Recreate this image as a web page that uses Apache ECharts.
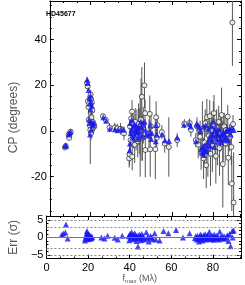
<!DOCTYPE html>
<html>
<head>
<meta charset="utf-8">
<script src="https://cdn.jsdelivr.net/npm/echarts@6/dist/echarts.min.js"></script>
<style>html,body{margin:0;padding:0;background:#fff}#c{width:245px;height:285px}</style>
</head>
<body>
<div id="c"></div>
<script>
// Observed closure phases (open circles) with error bars
const obsX = [7.4, 7.8, 9.2, 9.5, 9.8, 10.2,
  18.2, 18.5, 18.6, 18.9, 19.1, 19.3, 19.5, 19.8, 20.0, 20.2, 20.4, 20.6, 20.8, 21.0, 21.2, 21.5, 21.8, 20.1,
  26.0, 27.4, 29.2, 31.8, 33.0, 34.6, 36.3,
  38.8, 39.0, 39.2, 39.5, 39.8, 40.2, 40.3, 40.6, 40.9, 41.2, 41.5, 41.8, 42.2, 42.6, 43.0, 43.4, 43.8, 44.2, 44.6, 45.0, 45.3, 45.7, 46.3, 46.6, 46.7,
  48.5, 48.9, 49.1, 49.5, 51.6, 52.0, 52.3, 52.6,
  54.8, 56.2, 58.2, 62.3, 65.8, 68.4, 69.0,
  71.4, 72.0, 72.6, 73.5, 74.0, 74.6, 75.2, 75.6, 76.0, 76.5, 76.8, 77.3, 77.8, 78.2, 78.6, 79.0, 79.5, 80.0, 80.3, 80.8,
  81.2, 81.6, 82.0, 82.6, 83.0, 83.5, 84.0, 84.6, 84.8, 85.3, 85.8, 86.2, 86.6, 87.0, 87.3, 87.8, 88.2, 88.8, 89.0, 89.3, 89.9, 89.6];
const obsCP = [-7.2, -6.6, -1.6, -3.0, -1.0, -0.3,
  21.0, 19.5, 13.0, 10.5, 5.0, 12.0, 2.5, 0.5, 16.0, 14.0, 6.0, 12.5, 9.0, 4.0, 1.5, 3.0, 2.0, -1.0,
  6.5, 4.8, 1.5, 1.5, 1.2, 1.0, -1.0,
  -12.0, -10.2, 2.0, -4.0, 5.5, 8.5, -11.2, 3.0, -1.5, 0.5, -6.0, 4.0, -2.5, 1.5, -4.5, 3.0, 0.0, -2.0, 5.0, 15.0, -3.0, 2.5, 20.0, 7.8, -8.3,
  -1.0, 7.5, -8.0, 2.0, -8.0, 6.0, -3.0, 2.5,
  -0.5, -5.5, -7.0, -4.0, 3.2, 3.5, 0.5,
  -4.0, 2.0, -6.0, -2.5, -9.0, 1.0, -12.0, -5.0, 3.5, -15.0, 6.0, -8.0, -2.0, 6.5, -10.0, 0.5, -6.0, 3.0, 7.8, -3.5,
  -11.0, 1.5, -5.0, 4.0, -7.5, -1.0, 7.0, -14.5, -3.0, 2.0, -5.5, 0.5, -2.0, 6.3, -11.7, -3.0, -2.5, -7.0, -23.0, 47.5, -31.3, 3.0];
const obsErr = [0.8, 0.8, 0.8, 1.0, 0.8, 0.8,
  2.5, 2.0, 2.5, 3.0, 3.0, 2.0, 4.0, 15.0, 2.0, 2.5, 3.0, 2.0, 3.0, 2.5, 3.0, 2.0, 2.0, 3.0,
  1.0, 1.2, 2.0, 2.0, 2.0, 2.5, 3.0,
  4.0, 5.0, 4.0, 5.0, 4.0, 5.0, 6.0, 5.0, 6.0, 7.0, 8.0, 6.0, 6.0, 8.0, 7.0, 9.0, 10.0, 18.0, 18.0, 13.0, 10.0, 8.0, 10.0, 6.0, 12.0,
  6.0, 8.0, 12.0, 6.0, 13.0, 7.0, 4.0, 4.0,
  3.0, 4.0, 13.0, 3.0, 2.0, 2.0, 3.0,
  3.0, 4.0, 6.0, 7.0, 8.0, 12.0, 9.0, 10.0, 6.0, 10.0, 8.0, 12.0, 9.0, 7.0, 14.0, 8.0, 12.0, 10.0, 8.0, 9.0,
  12.0, 8.0, 10.0, 7.0, 12.0, 8.0, 12.0, 19.0, 10.0, 6.0, 8.0, 6.0, 5.0, 5.0, 12.0, 6.0, 4.0, 8.0, 12.0, 19.0, 22.0, 4.0];

// Model closure phases (blue triangles)
const modelX = [7.6, 8.0, 9.3, 9.7, 10.2, 18.3, 18.5, 19.0, 19.4, 19.6,
  19.9, 20.2, 19.2, 19.6, 20.0, 20.5, 20.9, 21.3, 19.7, 20.2,
  20.6, 21.6, 26.2, 27.6, 29.4, 31.9, 33.2, 34.8, 36.1, 39.0,
  39.2, 39.4, 39.6, 39.9, 40.1, 40.4, 40.7, 41.0, 41.3, 41.6,
  41.9, 42.2, 42.5, 42.8, 43.1, 43.4, 43.7, 44.1, 44.5, 44.9,
  45.3, 45.7, 46.4, 46.8, 47.2, 48.3, 48.8, 49.2, 49.6, 50.0,
  51.8, 52.1, 52.4, 54.9, 56.3, 58.3, 62.3, 65.6, 68.3, 68.8,
  71.5, 71.8, 72.4, 73.0, 73.6, 74.0, 74.3, 74.7, 75.0, 75.3,
  75.7, 76.0, 76.3, 76.6, 77.0, 77.3, 77.7, 78.0, 78.3, 78.7,
  79.0, 79.3, 79.7, 80.0, 80.4, 80.7, 81.0, 81.3, 81.7, 82.0,
  82.4, 82.8, 83.2, 83.6, 84.0, 84.4, 84.8, 85.2, 85.6, 86.0,
  86.4, 86.8, 87.2, 87.8, 88.4, 88.9, 90.0];
const modelCP = [-6.2, -6.5, -1.5, -1.0, -0.2, 22.5, 21.0, 18.0, 14.5, 12.0,
  15.5, 13.0, 5.0, 3.5, 9.5, 4.0, 3.0, 2.5, -1.5, 0.5,
  11.0, 3.5, 6.0, 4.5, 1.0, 0.8, 0.3, 1.0, 0.5, -8.5,
  -5.5, 3.5, -1.0, 0.5, 5.0, -3.0, 1.5, -1.0, 3.0, -2.0,
  0.5, 2.5, -0.5, 1.0, -3.5, 2.0, 0.0, -1.5, 4.0, 1.5,
  -2.5, 3.0, 4.0, 0.5, -1.5, -2.0, -0.5, 2.5, -3.5, -1.0,
  -4.5, 2.6, -1.6, -1.5, -4.0, -4.4, -2.8, 2.7, 3.2, 2.0,
  -4.5, 3.2, 2.6, 1.5, 0.0, -8.0, -9.5, -7.0, 1.9, -10.5,
  -8.5, -6.0, 2.5, -9.0, -7.5, -5.0, 1.0, -3.5, -6.5, -1.5,
  2.0, -4.5, -2.0, 4.0, -7.0, 0.0, -3.0, 1.5, -1.0, -4.5,
  -2.0, 0.5, -3.5, -1.5, -5.0, -2.5, -0.5, -4.0, -1.5, -3.0,
  0.0, 1.0, -4.0, 0.7, -1.5, 1.5, 0.4];

// Residuals (sigma)
const resX = [7.3, 8.1, 9.1, 9.4, 10.2, 18.5, 18.7, 19.0, 19.3, 19.5,
  19.7, 19.9, 20.1, 20.3, 20.5, 20.7, 20.9, 21.1, 21.4, 21.7,
  22.0, 26.4, 27.9, 29.4, 32.8, 34.3, 36.4, 39.5, 39.8, 40.1,
  40.4, 40.6, 40.9, 41.5, 41.8, 42.1, 42.4, 42.7, 43.0, 43.3,
  43.6, 44.0, 44.3, 44.6, 44.9, 45.2, 45.5, 45.8, 46.2, 46.5,
  47.0, 48.0, 48.4, 48.8, 49.2, 50.0, 50.6, 51.0, 52.0, 52.5,
  54.4, 56.3, 58.6, 62.3, 65.6, 68.8, 71.4, 71.8, 72.2, 72.6,
  73.0, 73.3, 73.6, 74.0, 74.3, 74.6, 75.0, 75.3, 75.6, 76.0,
  76.3, 76.6, 77.0, 77.3, 77.6, 78.0, 78.3, 78.6, 79.0, 79.3,
  79.7, 80.0, 80.4, 80.7, 81.0, 81.4, 81.7, 82.0, 82.4, 83.0,
  83.3, 83.7, 84.0, 84.5, 85.0, 85.4, 86.0, 86.5, 87.0, 87.5,
  88.0, 88.5, 89.3, 90.0, 89.5];
const resVal = [0.7, 1.1, 1.4, 3.7, -0.3, -0.9, -0.3, 0.3, 1.2, 1.8,
  0.6, -0.5, 1.0, 0.2, -0.2, 0.7, 0.0, -0.4, 0.4, -0.2,
  0.1, 0.0, -0.3, 0.5, -0.1, -0.6, 0.5, 0.3, -0.8, 1.0,
  0.5, -0.3, 1.5, 0.8, -0.5, 0.2, 1.2, -0.2, 0.6, -1.0,
  0.3, -2.6, 0.0, 0.8, -0.4, 0.4, -0.8, 1.0, -0.2, 0.3,
  -0.6, 1.5, -0.3, 0.2, -1.2, 0.4, 0.0, -0.5, 1.2, -0.6,
  -0.9, 1.8, 1.2, 2.1, 0.0, 1.2, -0.2, 0.3, -0.6, 0.5,
  -0.3, -1.2, 0.2, 0.8, -0.5, 0.4, -0.9, 0.1, 0.6, -0.3,
  0.9, -0.6, 0.3, -0.1, 0.7, -0.4, 1.6, 0.2, -0.5, 0.5,
  -0.2, 0.4, -0.7, 0.8, 0.0, -0.4, 0.5, -0.2, 0.3, -0.6,
  1.7, 0.1, -0.3, 0.4, -0.1, 0.3, -0.4, 0.2, 0.6, -1.0,
  1.0, -2.5, 1.8, 2.0, 0.0];

const xTicks = [0, 20, 40, 60, 80];
const cpTicks = [-20, 0, 20, 40];
const errTicks = [-5, 0, 5];
const refLines = [-5, -3, 3, 5];

const obsData = obsX.map((x, i) => [x, obsCP[i], obsErr[i]]);
const modelData = modelX.map((x, i) => [x, modelCP[i]]);
const resData = resX.map((x, i) => [x, resVal[i]]);

const FONT = 'Liberation Sans';
const axisCol = '#000';
const near = (v, list) => list.some(t => Math.abs(v - t) < 1e-6);

function xAx(grid, pos, labels) {
  return {
    type: 'value', gridIndex: grid, position: pos, min: 0, max: 93.5, interval: 20,
    axisLine: {show: true, onZero: false, lineStyle: {color: axisCol, width: 1}},
    axisTick: {show: true, inside: true, length: 4, lineStyle: {color: axisCol}},
    minorTick: {show: true, splitNumber: 3, length: 2, lineStyle: {color: axisCol}},
    splitLine: {show: false},
    axisLabel: {show: labels, margin: 4, fontFamily: FONT, fontSize: 11, color: '#000',
      formatter: v => near(v, xTicks) ? String(v) : ''},
    name: labels ? '{f|f}{s|max}{f| (Mλ)}' : '',
    nameLocation: 'middle', nameGap: 15,
    nameTextStyle: {rich: {f: {fontFamily: FONT, fontSize: 9, color: '#555'}, s: {fontFamily: FONT, fontSize: 6, color: '#555', verticalAlign: 'bottom', padding: [4, 0, 0, 0]}}, padding: [0, 8, 0, 0]}
  };
}
function yAx(grid, pos, min, max, ticks, labels, name, minorSplit, pad, fmt) {
  return {
    type: 'value', gridIndex: grid, position: pos, min: min, max: max, splitNumber: grid === 0 ? 5 : 2,
    axisLine: {show: true, onZero: false, lineStyle: {color: axisCol, width: 1}},
    axisTick: {show: true, inside: true, length: 4, lineStyle: {color: axisCol}},
    minorTick: {show: true, splitNumber: minorSplit, length: 2, lineStyle: {color: axisCol}},
    splitLine: {show: false},
    axisLabel: {show: labels, margin: 3, fontFamily: FONT, fontSize: 11, color: '#000',
      formatter: v => near(v, ticks) ? fmt(v) : ''},
    name: labels ? name : '', nameLocation: 'middle', nameGap: 19,
    nameTextStyle: {fontFamily: FONT, fontSize: 12, color: '#555', padding: pad}
  };
}

const chart = echarts.init(document.getElementById('c'), null, {renderer: 'canvas'});
chart.setOption({
  animation: false,
  backgroundColor: '#fff',
  title: {text: 'HD45677', left: 41, top: 6, textStyle: {fontFamily: FONT, fontSize: 7, fontWeight: 'bold', color: '#000'}},
  grid: [
    {left: 33, right: 4, top: 1, height: 215},
    {left: 33, right: 4, top: 216, height: 44}
  ],
  xAxis: [xAx(0, 'bottom', false), xAx(0, 'top', false), xAx(1, 'bottom', true), xAx(1, 'top', false)],
  yAxis: [
    yAx(0, 'left', -37.2, 56.9, cpTicks, true, 'CP (degrees)', 4, [0, 18, 0, 0], v => String(v)),
    yAx(0, 'right', -37.2, 56.9, cpTicks, false, '', 4, 0, v => String(v)),
    yAx(1, 'left', -6.05, 6.1, errTicks, true, 'Err (σ)', 5, 0, v => v < 0 ? '\u2212' + Math.abs(v) : String(v)),
    yAx(1, 'right', -6.05, 6.1, errTicks, false, '', 5, 0, v => String(v))
  ],
  series: [
    {
      type: 'custom', xAxisIndex: 0, yAxisIndex: 0, clip: true, data: obsData,
      encode: {x: 0, y: 1},
      renderItem: (params, api) => {
        const x = api.value(0), y = api.value(1), e = api.value(2);
        const p1 = api.coord([x, y - e]);
        const p2 = api.coord([x, y + e]);
        return {type: 'line', shape: {x1: p1[0], y1: p1[1], x2: p2[0], y2: p2[1]},
          style: {stroke: '#555', lineWidth: 1}};
      },
      z: 1
    },
    {
      type: 'scatter', xAxisIndex: 0, yAxisIndex: 0, data: obsData.map(d => [d[0], d[1]]),
      symbol: 'circle', symbolSize: 5, clip: true,
      itemStyle: {color: '#fff', borderColor: '#333', borderWidth: 1}, z: 2
    },
    {
      type: 'scatter', xAxisIndex: 0, yAxisIndex: 0, data: modelData,
      symbol: 'triangle', symbolSize: 6, clip: true,
      itemStyle: {color: '#1414f0'}, z: 3
    },
    {
      type: 'scatter', xAxisIndex: 2, yAxisIndex: 2, data: resData,
      symbol: 'triangle', symbolSize: 6, clip: true,
      itemStyle: {color: '#1414f0'}, z: 3,
      markLine: {
        silent: true, symbol: 'none', label: {show: false},
        data: [
          {yAxis: 0, lineStyle: {color: '#777', type: 'solid', width: 1}},
          ...refLines.map(v => ({yAxis: v, lineStyle: {color: '#888', type: [2, 2], width: 1}}))
        ]
      }
    }
  ]
});
</script>
</body>
</html>
